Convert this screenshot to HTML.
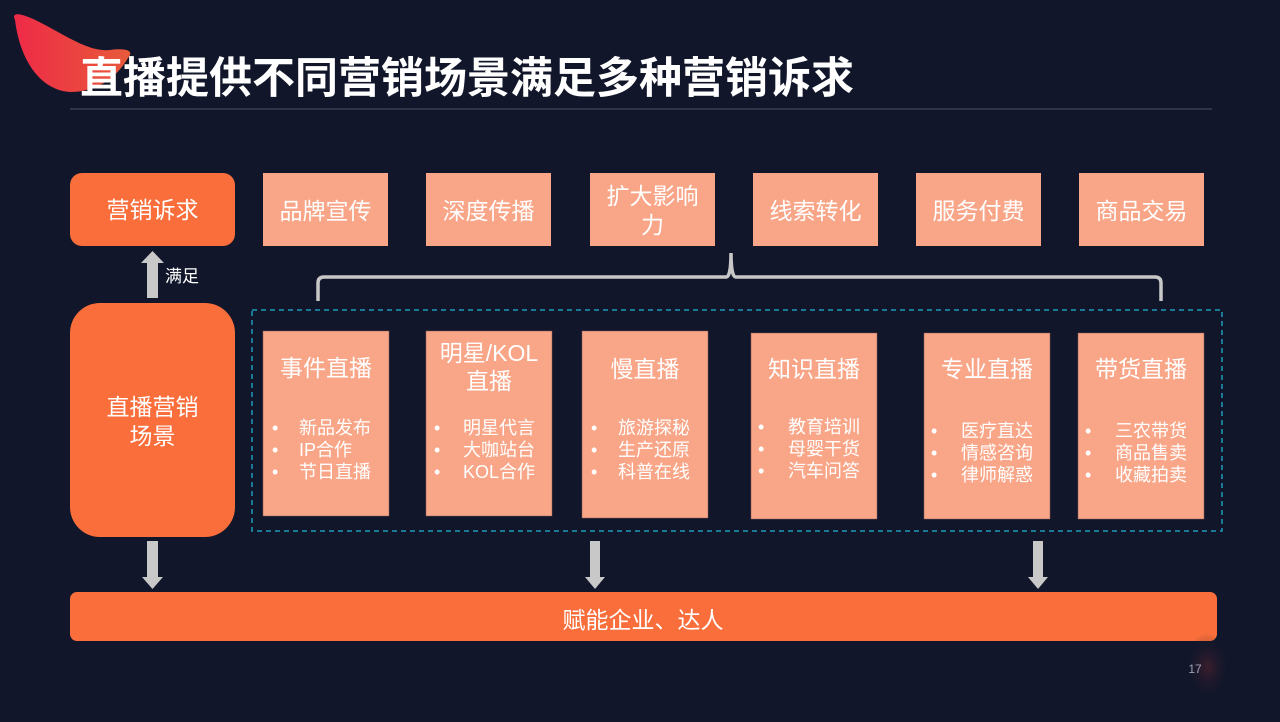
<!DOCTYPE html>
<html><head><meta charset="utf-8"><style>
html,body{margin:0;padding:0;background:#11162a;}
svg{display:block;}
text{font-family:"Liberation Sans","Noto Sans CJK SC",sans-serif;fill:#fff;}
</style></head><body>
<svg width="1280" height="722" viewBox="0 0 1280 722" xmlns="http://www.w3.org/2000/svg">
<defs>
<linearGradient id="g" x1="0" y1="0" x2="1" y2="0"><stop offset="0" stop-color="#ee2a47"/><stop offset="1" stop-color="#e85a3a"/></linearGradient>
<radialGradient id="dot" cx="0.6" cy="0.5" r="0.5"><stop offset="0" stop-color="#5a2430" stop-opacity="0.6"/><stop offset="1" stop-color="#11162a" stop-opacity="0"/></radialGradient>
</defs>
<rect width="1280" height="722" fill="#11162a"/>
<path d="M15,20 C10,10 25,14 45,25 C70,38 90,52 110,50 C125,48 135,50 128,58 C115,80 95,92 70,92 C40,90 20,60 15,20 Z" fill="url(#g)"/>
<text x="80" y="93" font-size="43" font-weight="bold">直播提供不同营销场景满足多种营销诉求</text>
<line x1="70" y1="109" x2="1212" y2="109" stroke="#3b3e55" stroke-width="1.5"/>

<rect x="70" y="173" width="165" height="73" rx="12" fill="#f96e3b"/>
<text x="152.5" y="218" font-size="23" text-anchor="middle">营销诉求</text>
<g fill="#f9a688">
<rect x="263" y="173" width="125" height="73"/><rect x="426" y="173" width="125" height="73"/><rect x="590" y="173" width="125" height="73"/><rect x="753" y="173" width="125" height="73"/><rect x="916" y="173" width="125" height="73"/><rect x="1079" y="173" width="125" height="73"/>
</g>
<g font-size="23" text-anchor="middle">
<text x="325.5" y="219">品牌宣传</text><text x="488.5" y="219">深度传播</text>
<text x="652.5" y="204">扩大影响</text><text x="652.5" y="233">力</text>
<text x="815.5" y="219">线索转化</text><text x="978.5" y="219">服务付费</text><text x="1141.5" y="219">商品交易</text>
</g>

<path d="M147,298 V263 H141 L152.5,251 L164,263 H158 V298 Z" fill="#c8c8c8"/>
<text x="165" y="282" font-size="17">满足</text>

<path d="M318,301 V283 Q318,277 324,277 H726 Q731,277 731,253 Q731,277 736,277 H1155 Q1161,277 1161,283 V301" fill="none" stroke="#c8c8c8" stroke-width="3.5"/>

<rect x="70" y="303" width="165" height="234" rx="30" fill="#f96e3b"/>
<text x="152.5" y="415" font-size="23" text-anchor="middle">直播营销</text>
<text x="152.5" y="444" font-size="23" text-anchor="middle">场景</text>

<rect x="252" y="310" width="970" height="221" fill="none" stroke="#1e9ab8" stroke-width="1.5" stroke-dasharray="5,4"/>

<g fill="#f9a688" stroke="#8a5a55" stroke-width="0.5">
<rect x="263" y="331" width="126" height="185"/><rect x="426" y="331" width="126" height="185"/><rect x="582" y="331" width="126" height="187"/><rect x="751" y="333" width="126" height="186"/><rect x="924" y="333" width="126" height="186"/><rect x="1078" y="333" width="126" height="186"/>
</g>
<g font-size="23" text-anchor="middle">
<text x="326" y="376">事件直播</text>
<text x="489" y="361">明星/KOL</text><text x="489" y="389">直播</text>
<text x="645" y="377">慢直播</text>
<text x="814" y="377">知识直播</text>
<text x="987" y="377">专业直播</text>
<text x="1141" y="377">带货直播</text>
</g>
<g font-size="18">
<text x="272" y="434">•</text><text x="272" y="456">•</text><text x="272" y="478">•</text>
<text x="299" y="434">新品发布</text><text x="299" y="456">IP合作</text><text x="299" y="478">节日直播</text>
<text x="434" y="434">•</text><text x="434" y="456">•</text><text x="434" y="478">•</text>
<text x="463" y="434">明星代言</text><text x="463" y="456">大咖站台</text><text x="463" y="478">KOL合作</text>
<text x="591" y="434">•</text><text x="591" y="456">•</text><text x="591" y="478">•</text>
<text x="618" y="434">旅游探秘</text><text x="618" y="456">生产还原</text><text x="618" y="478">科普在线</text>
<text x="758" y="433">•</text><text x="758" y="455">•</text><text x="758" y="477">•</text>
<text x="788" y="433">教育培训</text><text x="788" y="455">母婴干货</text><text x="788" y="477">汽车问答</text>
<text x="931" y="437">•</text><text x="931" y="459">•</text><text x="931" y="481">•</text>
<text x="961" y="437">医疗直达</text><text x="961" y="459">情感咨询</text><text x="961" y="481">律师解惑</text>
<text x="1085" y="437">•</text><text x="1085" y="459">•</text><text x="1085" y="481">•</text>
<text x="1115" y="437">三农带货</text><text x="1115" y="459">商品售卖</text><text x="1115" y="481">收藏拍卖</text>
</g>

<g fill="#c8c8c8">
<path d="M147,541 H158 V577 H163 L152.5,589 L142,577 H147 Z"/>
<path d="M590,541 H600 V577 H605 L595,589 L585,577 H590 Z"/>
<path d="M1033,541 H1043 V577 H1048 L1038,589 L1028,577 H1033 Z"/>
</g>
<rect x="70" y="592" width="1147" height="49" rx="7" fill="#f96e3b"/>
<text x="643" y="628" font-size="23" text-anchor="middle">赋能企业、达人</text>

<ellipse cx="1203" cy="667" rx="24" ry="34" fill="url(#dot)"/>
<text x="1195" y="673" font-size="12" text-anchor="middle" style="fill:#a0a3b5">17</text>
</svg>
</body></html>
